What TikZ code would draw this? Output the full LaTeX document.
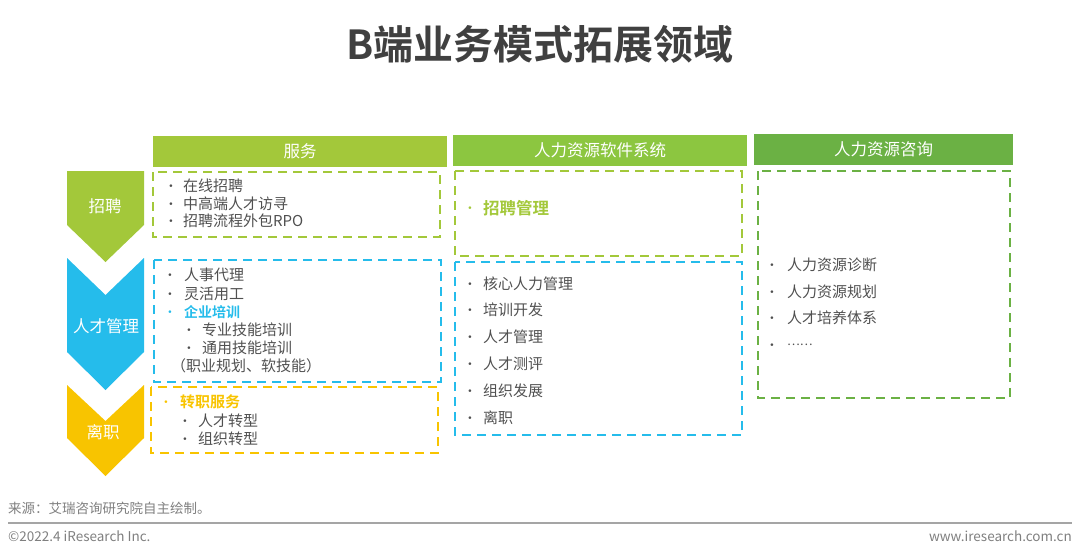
\documentclass[tikz,border=0pt]{standalone}
\usepackage{fontspec}
\setmainfont{Noto Sans CJK SC}
\newfontfamily\cjkb{Noto Sans CJK SC Bold}
\newfontfamily\bulf{DejaVu Sans}
\definecolor{ygreen}{HTML}{A3C83A}
\definecolor{sgreen}{HTML}{8CC640}
\definecolor{dgreen}{HTML}{6BB144}
\definecolor{cblue}{HTML}{25BCEB}
\definecolor{cyellow}{HTML}{F8C400}
\definecolor{tgray}{HTML}{404040}
\definecolor{igray}{HTML}{505050}
\definecolor{fgray}{HTML}{7F7F7F}
\tikzset{
  hdr/.style={fill=#1, draw=none, text=white, font=\fontsize{16.5}{18}\selectfont, inner sep=0pt},
  dbox/.style={draw=#1, line width=2.4pt, dash pattern=on 9pt off 6pt},
  item/.style={anchor=west, inner sep=0pt, text=igray, font=\fontsize{15}{17}\selectfont},
  bul/.style={anchor=center, inner sep=0pt, yshift=-1.5pt, text=#1, font=\bulf\fontsize{9}{10}\selectfont},
  bul/.default=igray,
  lbl/.style={text=white, font=\fontsize{16.5}{18}\selectfont, inner sep=0pt},
  foot/.style={inner sep=0pt, text=fgray, font=\fontsize{13.5}{15}\selectfont},
}
\begin{document}
\begin{tikzpicture}[x=1pt,y=-1pt]
\useasboundingbox (0,0) rectangle (1080,558);
% title
\node[inner sep=0pt, text=tgray, font=\cjkb\fontsize{40}{44}\selectfont] (title) at (540,44) {B端业务模式拓展领域};
% headers
\path[fill=ygreen] (153,136) rectangle (447,167);
\node[hdr=ygreen] (h1) at (300,151.5) {服务};
\path[fill=sgreen] (453,135) rectangle (747,166);
\node[hdr=sgreen] (h2) at (600,150.5) {人力资源软件系统};
\path[fill=dgreen] (754,134) rectangle (1013,165);
\node[hdr=dgreen] (h3) at (883.5,149.5) {人力资源咨询};
% chevrons
\fill[ygreen] (67,171) -- (144,171) -- (144,225) -- (105.5,262) -- (67,225) -- cycle;
\node[lbl] (c1) at (105,206) {招聘};
\fill[cblue] (67,258) -- (105.5,295) -- (144,258) -- (144,352) -- (105.5,390) -- (67,352) -- cycle;
\node[lbl] (c2) at (106,326) {人才管理};
\fill[cyellow] (67,385) -- (105.5,421) -- (144,385) -- (144,438) -- (105.5,476) -- (67,438) -- cycle;
\node[lbl] (c3) at (103,432) {离职};
% dashed boxes
\draw[dbox=ygreen] (153,172) rectangle (440,237);
\draw[dbox=cblue] (154,260) rectangle (441,382);
\draw[dbox=cyellow] (151,387) rectangle (438,453);
\draw[dbox=ygreen] (455,171) rectangle (742,256);
\draw[dbox=cblue] (455,262) rectangle (742,435);
\draw[dbox=dgreen] (758,171) rectangle (1010,398);
% box 1
\node[bul] (b1a) at (171,186) {•};
\node[item] (t1a) at (183,186) {在线招聘};
\node[bul] (b1b) at (171,204) {•};
\node[item] (t1b) at (183,204) {中高端人才访寻};
\node[bul] (b1c) at (171,221) {•};
\node[item] (t1c) at (183,221) {招聘流程外包RPO};
% box 2
\node[bul] (b2a) at (170,275) {•};
\node[item] (t2a) at (184,275) {人事代理};
\node[bul] (b2b) at (170,294) {•};
\node[item] (t2b) at (184,294) {灵活用工};
\node[bul=cblue] (b2c) at (170,312) {•};
\node[item, text=cblue, font=\cjkb\fontsize{14}{16}\selectfont] (t2c) at (184,312) {企业培训};
\node[bul] (b2d) at (189,330) {•};
\node[item] (t2d) at (202,330) {专业技能培训};
\node[bul] (b2e) at (189,348) {•};
\node[item] (t2e) at (202,348) {通用技能培训};
\node[item] (t2f) at (171,366) {（职业规划、软技能）};
% box 3
\node[bul=cyellow] (b3a) at (166,402) {•};
\node[item, text=cyellow, font=\cjkb\fontsize{15}{17}\selectfont] (t3a) at (180,402) {转职服务};
\node[bul] (b3b) at (185,421) {•};
\node[item] (t3b) at (198,421) {人才转型};
\node[bul] (b3c) at (185,439) {•};
\node[item] (t3c) at (198,439) {组织转型};
% software
\node[bul=ygreen] (b4a) at (470,208) {•};
\node[item, text=ygreen, font=\cjkb\fontsize{16.5}{18}\selectfont] (t4a) at (483,208) {招聘管理};
\node[bul] (b5a) at (470,284) {•};
\node[item] (t5a) at (483,284) {核心人力管理};
\node[bul] (b5b) at (470,310) {•};
\node[item] (t5b) at (483,310) {培训开发};
\node[bul] (b5c) at (470,337) {•};
\node[item] (t5c) at (483,337) {人才管理};
\node[bul] (b5d) at (470,364) {•};
\node[item] (t5d) at (483,364) {人才测评};
\node[bul] (b5e) at (470,391) {•};
\node[item] (t5e) at (483,391) {组织发展};
\node[bul] (b5f) at (470,418) {•};
\node[item] (t5f) at (483,418) {离职};
% consulting
\node[bul] (b6a) at (772,265) {•};
\node[item] (t6a) at (787,265) {人力资源诊断};
\node[bul] (b6b) at (772,292) {•};
\node[item] (t6b) at (787,292) {人力资源规划};
\node[bul] (b6c) at (772,318) {•};
\node[item] (t6c) at (787,318) {人才培养体系};
\node[bul] (b6d) at (772,345) {•};
\node[item, font=\fontsize{12}{14}\selectfont] (t6d) at (787,345) {……};
% footer
\node[foot, anchor=west] (src) at (8,508) {来源：艾瑞咨询研究院自主绘制。};
\coordinate (l1) at (8,523);
\coordinate (l2) at (1072,523);
\draw[fgray!70, line width=1.2pt] (l1) -- (l2);
\node[foot, anchor=west] (copy) at (8,536) {©2022.4 iResearch Inc.};
\node[foot, anchor=east] (web) at (1072,536) {www.iresearch.com.cn};
\end{tikzpicture}
\end{document}
